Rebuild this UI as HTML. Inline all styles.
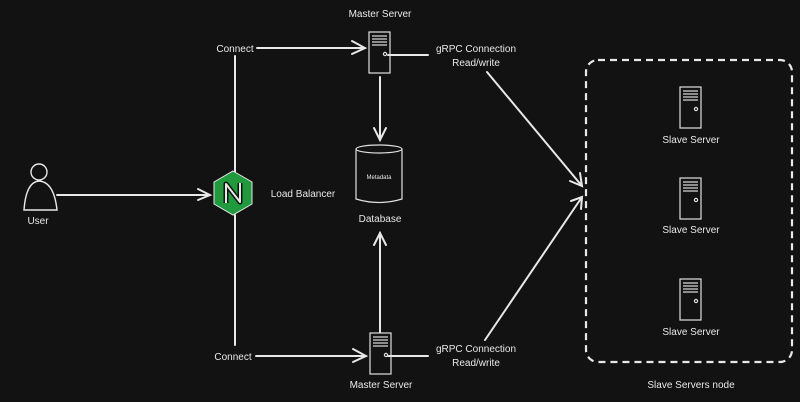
<!DOCTYPE html>
<html><head><style>
html,body{margin:0;padding:0;background:#121212;}
svg{display:block}
text{font-family:"Liberation Sans",sans-serif;fill:#e8e8e8;font-size:10px}
</style></head><body>
<svg width="800" height="402" viewBox="0 0 800 402" xmlns="http://www.w3.org/2000/svg">
<rect width="800" height="402" fill="#121212"/>
<defs>
<g id="srv" fill="none" stroke="#e0e0e0" stroke-width="1.2">
<rect x="0" y="0" width="21" height="41"/>
<line x1="3" y1="4" x2="18" y2="4"/><line x1="3" y1="7" x2="18" y2="7"/><line x1="3" y1="10" x2="18" y2="10"/><line x1="3" y1="13" x2="18" y2="13"/>
<circle cx="16" cy="22" r="1.6"/>
</g>
</defs>
<g stroke="#e8e8e8" stroke-width="2" fill="none" stroke-linecap="round">
<!-- user -->
<circle cx="39" cy="172" r="8" stroke-width="1.4"/>
<path d="M24 210 Q26 182 39 181 Q54 182 57 210 Z" stroke-width="1.4"/>
<line x1="57" y1="195" x2="208" y2="195"/>
<polyline points="198,189 210,195 198,200"/>
<!-- vertical -->
<line x1="235" y1="56" x2="235" y2="172"/>
<line x1="235" y1="215" x2="235" y2="345"/>
<!-- connect arrows -->
<line x1="257" y1="48" x2="365" y2="48"/>
<polyline points="352,41 365,48 352,54"/>
<line x1="256" y1="356" x2="366" y2="356"/>
<polyline points="353,349 366,356 353,362"/>
<!-- grpc lines -->
<line x1="388" y1="55" x2="428" y2="55"/>
<line x1="388" y1="356" x2="428" y2="356"/>
<!-- db arrows -->
<line x1="380" y1="77" x2="380" y2="140"/>
<polyline points="374,128 380,140 386,128"/>
<line x1="380" y1="332" x2="380" y2="233"/>
<polyline points="374,245 380,233 386,245"/>
<!-- diagonals -->
<line x1="487" y1="72" x2="582" y2="186"/>
<polyline points="570,181 582,186 580,173"/>
<line x1="485" y1="340" x2="582" y2="197"/>
<polyline points="571,201 582,197 581,209"/>
</g>
<!-- hexagon -->
<polygon points="233,171 252,182 252,204 233,215 214,204 214,182" fill="#1f9a3c" stroke="#e8e8e8" stroke-width="1"/>
<path d="M226 203 V184 L240 202 V183" stroke="#111" stroke-width="5" fill="none" stroke-linejoin="round"/>
<path d="M226 203 V184 L240 202 V183" stroke="#e8e8e8" stroke-width="2" fill="none" stroke-linejoin="round"/>
<!-- servers -->
<use href="#srv" x="369" y="32"/>
<use href="#srv" x="370" y="333"/>
<use href="#srv" x="680" y="87"/>
<use href="#srv" x="680" y="178"/>
<use href="#srv" x="680" y="279"/>
<!-- db -->
<g fill="none" stroke="#e0e0e0" stroke-width="1.2">
<path d="M356 149 V199 Q379 206 402 199 V149"/>
<ellipse cx="379" cy="149" rx="23" ry="4"/>
</g>
<!-- dashed box -->
<rect x="586" y="60" width="206" height="302" rx="12" fill="none" stroke="#e8e8e8" stroke-width="2.2" stroke-dasharray="7,5"/>
<!-- labels -->
<text x="380" y="17" text-anchor="middle">Master Server</text>
<text x="235" y="52" text-anchor="middle">Connect</text>
<text x="233" y="360" text-anchor="middle">Connect</text>
<text x="476" y="52" text-anchor="middle">gRPC Connection</text>
<text x="476" y="66" text-anchor="middle">Read/write</text>
<text x="476" y="352" text-anchor="middle">gRPC Connection</text>
<text x="476" y="366" text-anchor="middle">Read/write</text>
<text x="381" y="388" text-anchor="middle">Master Server</text>
<text x="303" y="197" text-anchor="middle">Load Balancer</text>
<text x="379" y="179" text-anchor="middle" style="font-size:6px">Metadata</text>
<text x="380" y="222" text-anchor="middle">Database</text>
<text x="38" y="224" text-anchor="middle">User</text>
<text x="691" y="143" text-anchor="middle">Slave Server</text>
<text x="691" y="233" text-anchor="middle">Slave Server</text>
<text x="691" y="335" text-anchor="middle">Slave Server</text>
<text x="691" y="388" text-anchor="middle">Slave Servers node</text>
</svg>
</body></html>
